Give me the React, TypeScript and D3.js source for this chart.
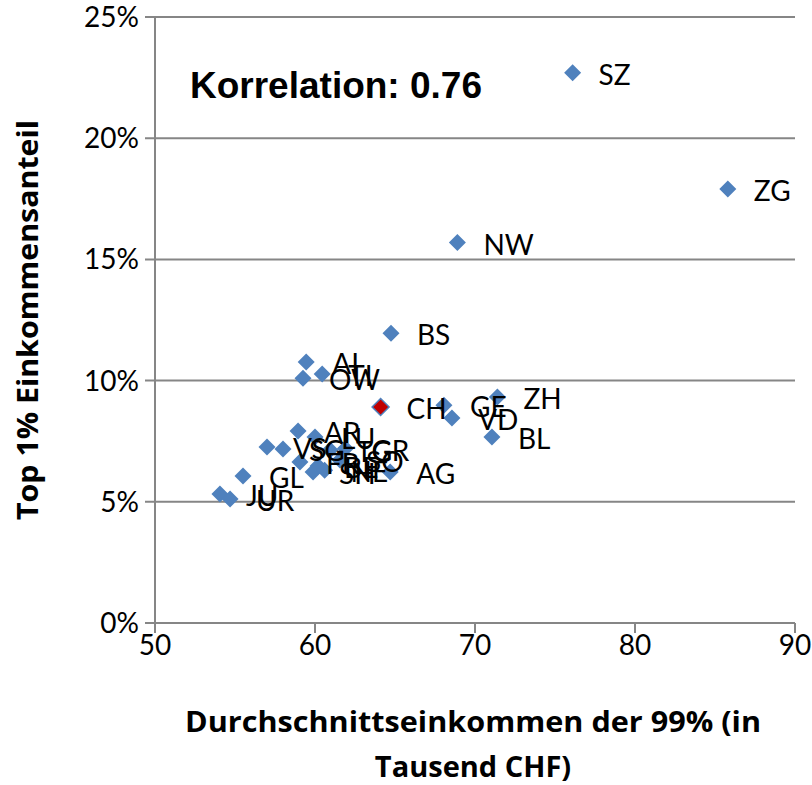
import React from "react";
import * as d3 from "d3";

const cantons = ["JU","UR","GL","VS","SG","AR","LU","FR","SH","BE","SO","TG","NE","GR","AG","GE","VD","ZH","BL","SZ","ZG","NW","BS","AI","OW","TI","CH"];
const avgIncome = [54.06,54.69,55.5,57.0,58.0,58.94,60.0,59.06,59.88,60.19,61.56,60.94,60.6,61.9,64.7,68.06,68.56,71.4,71.06,76.1,85.8,68.9,64.75,59.45,59.25,60.45,64.1];
const top1Share = [5.32,5.12,6.06,7.26,7.18,7.92,7.67,6.64,6.23,6.48,6.72,7.14,6.3,7.2,6.23,8.98,8.46,9.32,7.67,22.7,17.9,15.7,11.95,10.77,10.1,10.27,8.91];
const xTicks = [50,60,70,80,90];
const yTicks = [0,5,10,15,20,25];

export default function App() {
  const W = 812, H = 785;
  const x = d3.scaleLinear().domain([50, 90]).range([155, 795]);
  const y = d3.scaleLinear().domain([0, 25]).range([623, 17]);
  const grid = "#868686";
  const lbl = "Lato, 'Open Sans', sans-serif";
  const titleFont = "'Open Sans', sans-serif";
  const diamond = (cx: number, cy: number, r: number) =>
    `M${cx},${cy - r}L${cx + r},${cy}L${cx},${cy + r}L${cx - r},${cy}Z`;
  return (
    <svg width={W} height={H} style={{ position: "absolute", left: 0, top: 0 }}>
      <rect x={0} y={0} width={W} height={H} fill="#fff" />
      {yTicks.map((t) => (
        <g key={"y" + t}>
          <line x1={145} x2={x(90)} y1={y(t)} y2={y(t)} stroke={grid} strokeWidth={2} />
          <text x={139} y={y(t)} dy="0.36em" textAnchor="end" fontFamily={lbl} fontSize={28}>{t + "%"}</text>
        </g>
      ))}
      <line x1={x(50)} x2={x(50)} y1={y(25)} y2={y(0) + 10} stroke={grid} strokeWidth={2} />
      {xTicks.map((t) => (
        <g key={"x" + t}>
          <line x1={x(t)} x2={x(t)} y1={y(0)} y2={y(0) + 10} stroke={grid} strokeWidth={2} />
          <text x={x(t)} y={645} dy="0.36em" textAnchor="middle" fontFamily={lbl} fontSize={28}>{t}</text>
        </g>
      ))}
      {cantons.map((c, i) => {
        const cx = x(avgIncome[i]), cy = y(top1Share[i]);
        const isCH = c === "CH";
        return (
          <path key={"p" + c} d={diamond(cx, cy, 8.5)} fill={isCH ? "#C00000" : "#4F81BD"} stroke="#4F81BD" strokeWidth={isCH ? 1.5 : 0} />
        );
      })}
      {cantons.map((c, i) => {
        const cx = x(avgIncome[i]), cy = y(top1Share[i]);
        return (
          <text key={"t" + c} x={cx + 26} y={cy + 2} dy="0.36em" fontFamily={lbl} fontSize={28}>{c}</text>
        );
      })}
      <text x={190} y={85} dy="0.36em" fontFamily="'Liberation Sans', Arial, sans-serif" fontWeight="bold" fontSize={37}>Korrelation: 0.76</text>
      <text x={473} y={722} dy="0.36em" textAnchor="middle" fontFamily={titleFont} fontWeight="bold" fontSize={29} textLength={576} lengthAdjust="spacingAndGlyphs">Durchschnittseinkommen der 99% (in</text>
      <text x={473} y={767} dy="0.36em" textAnchor="middle" fontFamily={titleFont} fontWeight="bold" fontSize={29}>Tausend CHF)</text>
      <text transform="translate(28,320) rotate(-90)" dy="0.36em" textAnchor="middle" fontFamily={titleFont} fontWeight="bold" fontSize={29} textLength={400} lengthAdjust="spacingAndGlyphs">Top 1% Einkommensanteil</text>
    </svg>
  );
}
